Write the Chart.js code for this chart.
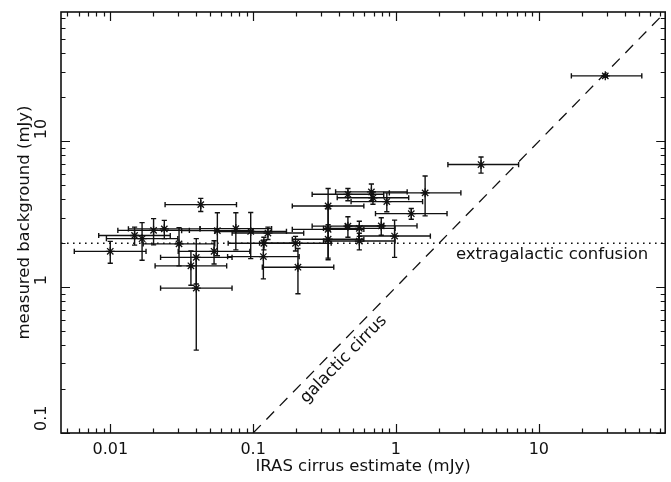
<!DOCTYPE html>
<html>
<head>
<meta charset="utf-8">
<script src="https://cdn.jsdelivr.net/npm/chart.js@4.4.1/dist/chart.umd.min.js"></script>
<style>
  html,body{margin:0;padding:0;background:#fff;overflow:hidden;}
  canvas{display:block;}
</style>
</head>
<body>
<canvas id="c" width="671" height="482" style="width:671px;height:482px"></canvas>
<script>
// ---- data ----
const iras   = [0.0100,0.0148,0.0167,0.0201,0.0239,0.0303,0.0367,0.0400,0.0400,0.0430,
                0.0533,0.0562,0.0757,0.0962,0.118,0.119,0.127,0.198,0.206,0.335,
                0.335,0.335,0.461,0.461,0.554,0.554,0.673,0.690,0.789,0.863,
                0.978,1.28,1.60,3.94,29.2];
const irasLo = [0.0056,0.0083,0.0094,0.0113,0.0134,0.0170,0.0206,0.0225,0.0225,0.0242,
                0.0299,0.0316,0.0425,0.0540,0.0663,0.0669,0.0713,0.111,0.116,0.188,
                0.188,0.188,0.259,0.259,0.311,0.311,0.378,0.388,0.443,0.485,
                0.549,0.719,0.899,2.31,16.9];
const irasHi = [0.0178,0.0263,0.0297,0.0358,0.0425,0.0539,0.0653,0.0712,0.0712,0.0765,
                0.0949,0.1000,0.1347,0.1712,0.210,0.212,0.226,0.352,0.367,0.596,
                0.596,0.596,0.821,0.821,0.986,0.986,1.198,1.228,1.404,1.536,
                1.741,2.278,2.848,7.22,52.6];
const measured = [1.76,2.26,2.15,2.45,2.51,1.98,1.40,1.60,0.985,3.68,
                  1.76,2.44,2.52,2.41,1.62,2.00,2.35,2.00,1.37,3.60,
                  2.49,2.13,4.33,2.62,2.53,2.07,4.50,4.10,2.63,3.86,
                  2.24,3.19,4.43,6.93,28.1];
const measuredErr = [0.30,0.32,0.62,0.50,0.36,0.58,0.37,0.55,0.615,0.38,
                     0.32,0.80,0.72,0.84,0.48,0.20,0.23,0.23,0.47,1.15,
                     0.95,0.55,0.42,0.42,0.30,0.27,0.60,0.40,0.36,0.57,
                     0.64,0.27,1.35,0.88,0.60];
const cirrusLineX = [0.1, 77];          // y = x
const confusionLevel = 2;               // mJy
const xRange = [0.00452, 76.7];
const yRange = [0.1, 77];
const xTickValues = [0.01, 0.1, 1, 10];
const xTickLabels = ['0.01', '0.1', '1', '10'];
const yTickValues = [0.1, 1, 10];
const yTickLabels = ['0.1', '1', '10'];
const xTitle = 'IRAS cirrus estimate (mJy)';
const yTitle = 'measured background (mJy)';
const confusionText = 'extragalactic confusion';
const cirrusText = 'galactic cirrus';
const confusionTextAt = {x: 12.4, y: 1.67};
const cirrusTextAt = {x: 0.43, y: 0.32};

// ---- build ----
const FONT = '"DejaVu Sans", sans-serif';
const INK = '#111';
const points = iras.map((x, i) => ({x, y: measured[i]}));

const errorBars = {
  id: 'errorBars',
  beforeDatasetsDraw(chart) {
    const {ctx, scales: {x, y}, chartArea: a} = chart;
    ctx.save();
    ctx.beginPath();
    ctx.rect(a.left, a.top, a.right - a.left, a.bottom - a.top);
    ctx.clip();
    ctx.strokeStyle = INK;
    ctx.lineWidth = 1.4;
    const cap = 2.6;
    iras.forEach((xv, i) => {
      const px = x.getPixelForValue(xv), py = y.getPixelForValue(measured[i]);
      const x0 = x.getPixelForValue(irasLo[i]), x1 = x.getPixelForValue(irasHi[i]);
      const y0 = y.getPixelForValue(measured[i] + measuredErr[i]);
      const y1 = y.getPixelForValue(Math.max(measured[i] - measuredErr[i], 1e-6));
      ctx.beginPath();
      ctx.moveTo(x0, py); ctx.lineTo(x1, py);
      ctx.moveTo(x0, py - cap); ctx.lineTo(x0, py + cap);
      ctx.moveTo(x1, py - cap); ctx.lineTo(x1, py + cap);
      ctx.moveTo(px, y0); ctx.lineTo(px, y1);
      ctx.moveTo(px - cap, y0); ctx.lineTo(px + cap, y0);
      ctx.moveTo(px - cap, y1); ctx.lineTo(px + cap, y1);
      ctx.stroke();
    });
    ctx.restore();
  }
};

function logTickMarks(scale) {
  const out = [];
  const lo = Math.floor(Math.log10(scale.min)), hi = Math.ceil(Math.log10(scale.max));
  for (let d = lo; d <= hi; d++) {
    for (let m = 1; m <= 9; m++) {
      const v = m * Math.pow(10, d);
      if (v >= scale.min * 0.9999 && v <= scale.max * 1.0001) out.push({v, major: m === 1});
    }
  }
  return out;
}

const decor = {
  id: 'decor',
  afterDraw(chart) {
    const {ctx, chartArea: a, scales: {x, y}} = chart;
    ctx.save();
    ctx.strokeStyle = INK;
    ctx.lineWidth = 1.2;
    ctx.beginPath();
    logTickMarks(x).forEach(t => {
      const p = Math.round(x.getPixelForValue(t.v)) + 0.5, L = t.major ? 9 : 4.5;
      ctx.moveTo(p, a.bottom); ctx.lineTo(p, a.bottom - L);
      ctx.moveTo(p, a.top); ctx.lineTo(p, a.top + L);
    });
    logTickMarks(y).forEach(t => {
      const p = Math.round(y.getPixelForValue(t.v)) + 0.5, L = t.major ? 9 : 4.5;
      ctx.moveTo(a.left, p); ctx.lineTo(a.left + L, p);
      ctx.moveTo(a.right, p); ctx.lineTo(a.right - L, p);
    });
    ctx.stroke();
    ctx.lineWidth = 1.6;
    ctx.strokeRect(a.left, a.top, a.right - a.left, a.bottom - a.top);
    ctx.fillStyle = INK;
    ctx.font = '16px ' + FONT;
    ctx.textAlign = 'center';
    ctx.textBaseline = 'middle';
    xTickValues.forEach((v, i) => {
      ctx.fillText(xTickLabels[i], x.getPixelForValue(v), a.bottom + 17);
    });
    yTickValues.forEach((v, i) => {
      ctx.save();
      ctx.translate(a.left - 19, y.getPixelForValue(v) - 2);
      ctx.rotate(-Math.PI / 2);
      ctx.textAlign = 'left';
      ctx.fillText(yTickLabels[i], 0, 0);
      ctx.restore();
    });
    ctx.font = '16.5px ' + FONT;
    ctx.textAlign = 'center';
    ctx.fillText(xTitle, (a.left + a.right) / 2, 467);
    ctx.save();
    ctx.translate(25, (a.top + a.bottom) / 2);
    ctx.rotate(-Math.PI / 2);
    ctx.fillText(yTitle, 0, 0);
    ctx.restore();
    ctx.fillText(confusionText, x.getPixelForValue(confusionTextAt.x), y.getPixelForValue(confusionTextAt.y));
    const ax = x.getPixelForValue(cirrusLineX[0]), ay = y.getPixelForValue(cirrusLineX[0]);
    const bx = x.getPixelForValue(cirrusLineX[1]), by = y.getPixelForValue(cirrusLineX[1]);
    ctx.save();
    ctx.translate(x.getPixelForValue(cirrusTextAt.x), y.getPixelForValue(cirrusTextAt.y));
    ctx.rotate(Math.atan2(by - ay, bx - ax));
    ctx.fillText(cirrusText, 0, 0);
    ctx.restore();
    ctx.restore();
  }
};

new Chart(document.getElementById('c'), {
  type: 'scatter',
  data: {
    datasets: [
      {
        label: 'galactic cirrus',
        type: 'line',
        data: cirrusLineX.map(v => ({x: v, y: v})),
        borderColor: INK, borderWidth: 1.3, borderDash: [11, 8],
        pointRadius: 0, fill: false, showLine: true, order: 3
      },
      {
        label: 'extragalactic confusion',
        type: 'line',
        data: xRange.map(v => ({x: v, y: confusionLevel})),
        borderColor: INK, borderWidth: 1.6, borderDash: [1.6, 4.4],
        pointRadius: 0, fill: false, showLine: true, order: 2
      },
      {
        label: 'fields',
        data: points,
        pointStyle: 'star',
        pointRadius: 4.5,
        pointBorderColor: INK,
        pointBackgroundColor: INK,
        pointBorderWidth: 1.3,
        order: 1
      }
    ]
  },
  options: {
    responsive: false,
    animation: false,
    devicePixelRatio: 1,
    layout: {padding: {top: 12, right: 4, left: 0, bottom: 0}},
    plugins: {legend: {display: false}, tooltip: {enabled: false}},
    scales: {
      x: {
        type: 'logarithmic', min: xRange[0], max: xRange[1],
        grid: {display: false, drawTicks: false},
        border: {display: false},
        ticks: {display: false},
        afterFit: s => { s.height = 49; }
      },
      y: {
        type: 'logarithmic', min: yRange[0], max: yRange[1],
        grid: {display: false, drawTicks: false},
        border: {display: false},
        ticks: {display: false},
        afterFit: s => { s.width = 61; }
      }
    }
  },
  plugins: [errorBars, decor]
});
</script>
</body>
</html>
